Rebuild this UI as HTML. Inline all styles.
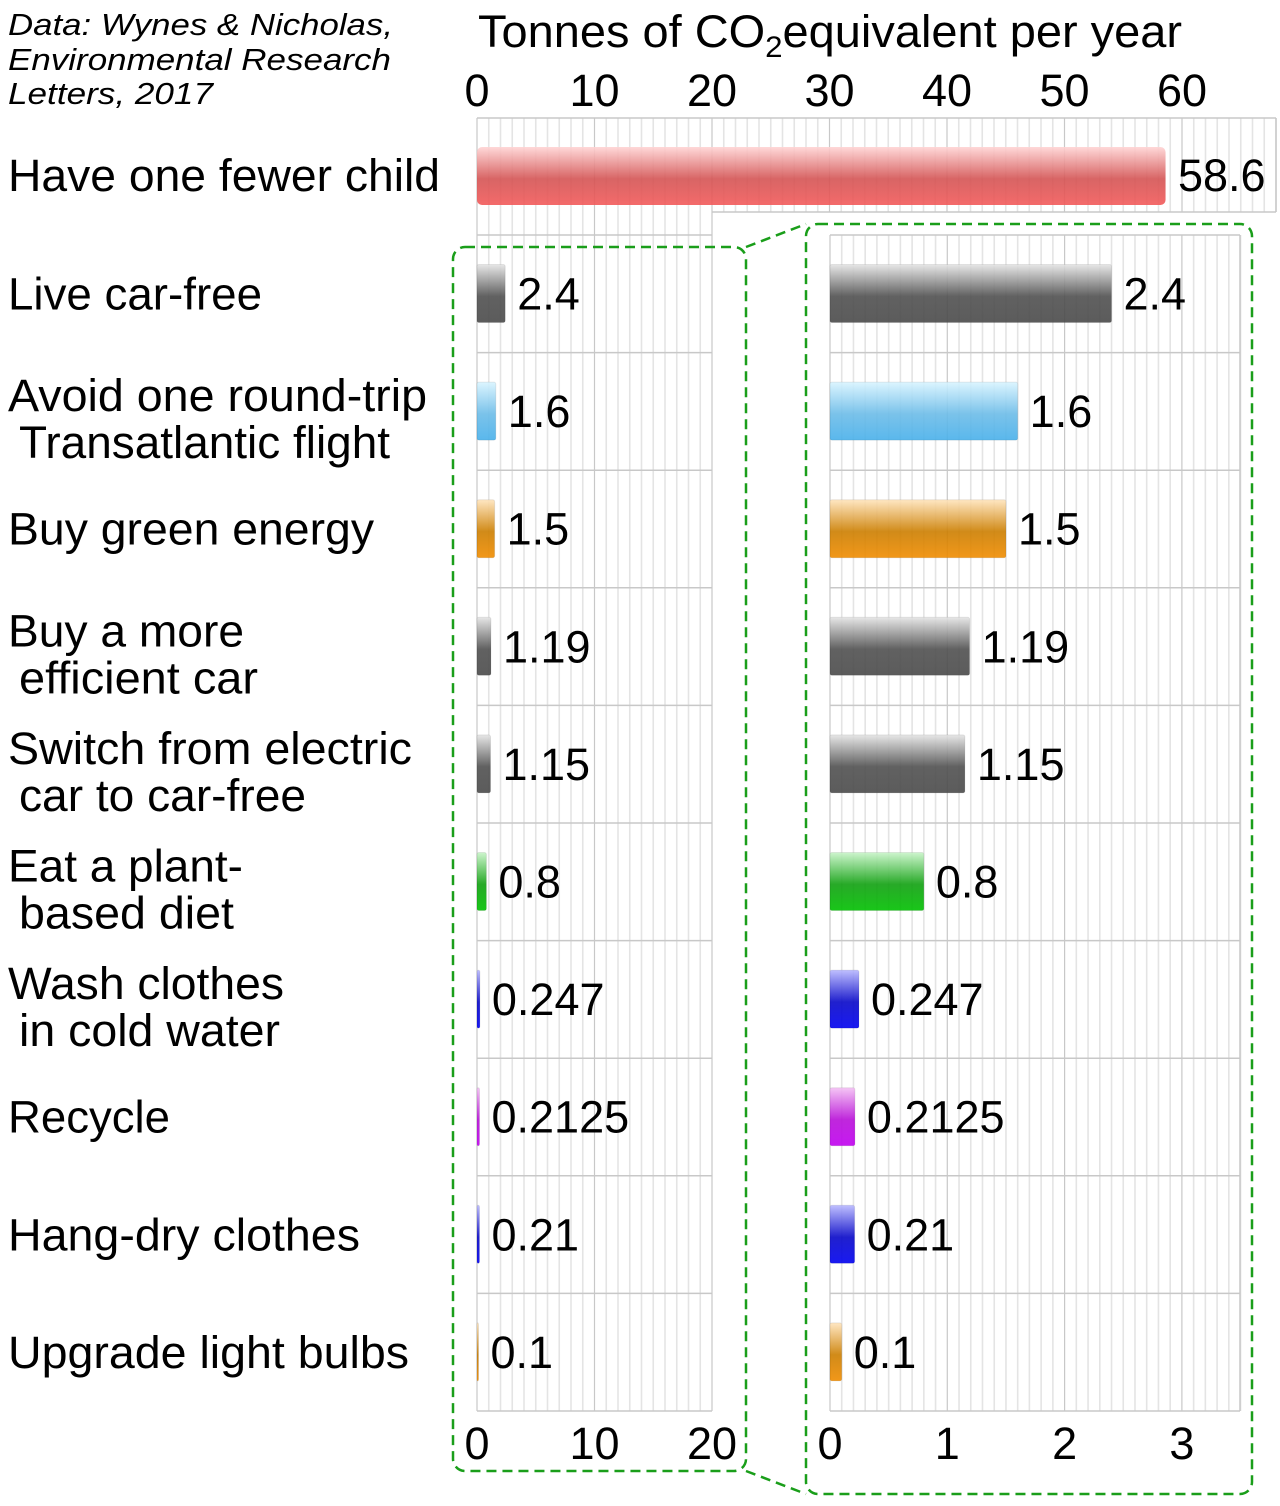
<!DOCTYPE html>
<html><head><meta charset="utf-8"><style>
html,body{margin:0;padding:0;background:#fff}
svg{display:block}
text{font-family:"Liberation Sans",sans-serif;fill:#000}
</style></head><body>
<svg id="s" width="1280" height="1506" viewBox="0 0 1280 1506" xmlns="http://www.w3.org/2000/svg">
<defs>
<linearGradient id="gr" x1="0" y1="0" x2="0" y2="1"><stop offset="0" stop-color="#ffd4d4"/><stop offset="0.55" stop-color="#d45454"/><stop offset="1" stop-color="#f25a5a"/></linearGradient>
<linearGradient id="gk" x1="0" y1="0" x2="0" y2="1"><stop offset="0" stop-color="#e4e4e4"/><stop offset="0.55" stop-color="#505050"/><stop offset="1" stop-color="#4a4a4a"/></linearGradient>
<linearGradient id="gc" x1="0" y1="0" x2="0" y2="1"><stop offset="0" stop-color="#d8f4ff"/><stop offset="0.55" stop-color="#6cbce8"/><stop offset="1" stop-color="#48b0ea"/></linearGradient>
<linearGradient id="go" x1="0" y1="0" x2="0" y2="1"><stop offset="0" stop-color="#ffe4bc"/><stop offset="0.55" stop-color="#cc7e00"/><stop offset="1" stop-color="#f08c00"/></linearGradient>
<linearGradient id="gg" x1="0" y1="0" x2="0" y2="1"><stop offset="0" stop-color="#c8f4c8"/><stop offset="0.55" stop-color="#10a010"/><stop offset="1" stop-color="#00c000"/></linearGradient>
<linearGradient id="gb" x1="0" y1="0" x2="0" y2="1"><stop offset="0" stop-color="#b8b8ff"/><stop offset="0.55" stop-color="#0808c8"/><stop offset="1" stop-color="#0000f0"/></linearGradient>
<linearGradient id="gm" x1="0" y1="0" x2="0" y2="1"><stop offset="0" stop-color="#f4c0f4"/><stop offset="0.55" stop-color="#b810d8"/><stop offset="1" stop-color="#c000f0"/></linearGradient>
</defs>
<g id="grid"></g>
<g id="bars"></g>
<g fill="none" stroke="#1a9e1a" stroke-width="2.5" stroke-dasharray="10,6">
<rect x="453" y="247" width="293" height="1224" rx="12"/>
<rect x="806" y="224" width="446" height="1270" rx="12"/>
<line x1="746" y1="247" x2="806" y2="224"/>
<line x1="746" y1="1471" x2="806" y2="1494"/>
</g>
<g font-style="italic" font-size="31">
<text x="8" y="35" textLength="385" lengthAdjust="spacingAndGlyphs">Data: Wynes &amp; Nicholas,</text>
<text x="8" y="70" textLength="383" lengthAdjust="spacingAndGlyphs">Environmental Research</text>
<text x="8" y="104" textLength="205" lengthAdjust="spacingAndGlyphs">Letters, 2017</text>
</g>
<text x="478" y="47" font-size="45" textLength="704" lengthAdjust="spacingAndGlyphs">Tonnes of CO<tspan font-size="30" dy="10">2</tspan><tspan dy="-10">equivalent per year</tspan></text>
<g id="txt" font-size="45"></g>
</svg>
<script>
var NS="http://www.w3.org/2000/svg";
function el(p,t,a,tx){var e=document.createElementNS(NS,t);for(var k in a)e.setAttribute(k,a[k]);if(tx!=null)e.textContent=tx;document.getElementById(p).appendChild(e);return e;}
var L0=477,LS=11.75,R0=830,RS=117.3;
function vgrid(x0,step,n,y1,y2,major){for(var i=0;i<=n;i++){var x=x0+i*step;el('grid','line',{x1:x,y1:y1,x2:x,y2:y2,stroke:(i%major==0)?'#c8c8c8':'#e4e4e4','stroke-width':(i%major==0)?1.2:1.6});}}
vgrid(L0,LS,68,118,212,10);
el('grid','line',{x1:L0,y1:118,x2:1276,y2:118,stroke:'#c8c8c8','stroke-width':1.5});
el('grid','line',{x1:1276,y1:118,x2:1276,y2:212,stroke:'#c8c8c8','stroke-width':1.5});
el('grid','line',{x1:712,y1:212,x2:1276,y2:212,stroke:'#c8c8c8','stroke-width':1.5});
vgrid(L0,LS,20,212,1411,10);
vgrid(R0,RS/10,35,235,1411,10);
for(var r=0;r<11;r++){var y=235+r*117.6;
 el('grid','line',{x1:L0,y1:y,x2:712,y2:y,stroke:'#c8c8c8','stroke-width':1.5});
 el('grid','line',{x1:R0,y1:y,x2:1240,y2:y,stroke:'#c8c8c8','stroke-width':1.5});}
el('grid','line',{x1:1240,y1:235,x2:1240,y2:1411,stroke:'#c8c8c8','stroke-width':1.5});
var data=[["2.4","gk",["Live car-free"],[254]],["1.6","gc",["Avoid one round-trip","Transatlantic flight"],[419,371]],["1.5","go",["Buy green energy"],[366]],["1.19","gk",["Buy a more","efficient car"],[236,239]],["1.15","gk",["Switch from electric","car to car-free"],[404,287]],["0.8","gg",["Eat a plant-","based diet"],[235,215]],["0.247","gb",["Wash clothes","in cold water"],[276,261]],["0.2125","gm",["Recycle"],[162]],["0.21","gb",["Hang-dry clothes"],[352]],["0.1","go",["Upgrade light bulbs"],[401]]];
el('bars','rect',{x:L0,y:147,width:58.6*LS,height:58,rx:5,fill:'url(#gr)','fill-opacity':0.9});
el('txt','text',{x:1178,y:191},"58.6");
el('txt','text',{x:8,y:191,textLength:432,lengthAdjust:'spacingAndGlyphs'},"Have one fewer child");
for(var i=0;i<data.length;i++){var d=data[i],v=parseFloat(d[0]),cy=293.5+i*117.6;
 var wl=Math.max(v*LS,1.5),wr=v*RS;
 el('bars','rect',{x:L0,y:cy-29,width:wl,height:58,rx:2,fill:'url(#'+d[1]+')','fill-opacity':0.9,stroke:'#000','stroke-opacity':0.08});
 el('bars','rect',{x:R0,y:cy-29,width:wr,height:58,rx:2,fill:'url(#'+d[1]+')','fill-opacity':0.9,stroke:'#000','stroke-opacity':0.08});
 el('txt','text',{x:L0+wl+12,y:cy+16},d[0]);
 el('txt','text',{x:R0+wr+12,y:cy+16},d[0]);
 var lines=d[2];
 if(lines.length==1) el('txt','text',{x:8,y:cy+16,textLength:d[3][0],lengthAdjust:'spacingAndGlyphs'},lines[0]);
 else{el('txt','text',{x:8,y:cy,textLength:d[3][0],lengthAdjust:'spacingAndGlyphs'},lines[0]);
  el('txt','text',{x:19,y:cy+47,textLength:d[3][1],lengthAdjust:'spacingAndGlyphs'},lines[1]);}
}
var tl=["0","10","20","30","40","50","60"];
for(var k=0;k<7;k++)el('txt','text',{x:L0+k*10*LS,y:106,'text-anchor':'middle'},tl[k]);
for(var k=0;k<3;k++)el('txt','text',{x:L0+k*10*LS,y:1459,'text-anchor':'middle'},tl[k]);
for(var k=0;k<4;k++)el('txt','text',{x:R0+k*RS,y:1459,'text-anchor':'middle'},""+k);
</script>
</body></html>
